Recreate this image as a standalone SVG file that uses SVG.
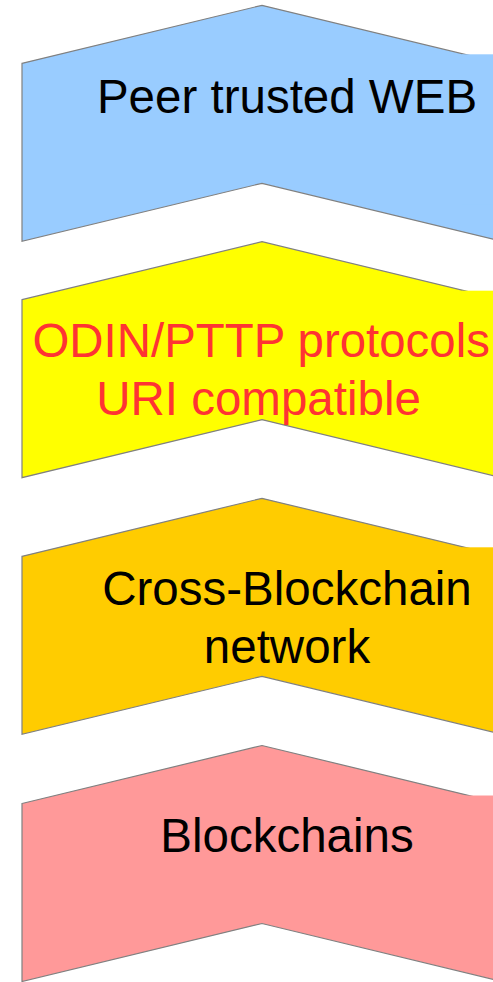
<svg xmlns="http://www.w3.org/2000/svg" width="493" height="982" viewBox="0 0 493 982">
<style>
.chev{stroke:#808080;stroke-width:1.2;stroke-linejoin:miter}
.cover{stroke:none}
.t{font-family:"Liberation Sans",Arial,sans-serif;font-size:47.5px;text-anchor:middle}
.blk{fill:#000}
.red{fill:#ff3333}
</style>
<defs>
<path id="shape" d="M22,58 L262,0 L502,58 L502,236 L262,178 L22,236 Z"/>
</defs>
<g id="node-web" transform="translate(0,5.3)">
<use href="#shape" class="chev" fill="#99ccff"/>
<rect class="cover" x="462" y="49" width="40" height="150" fill="#99ccff"/>
<text class="t blk" x="287" y="108">Peer trusted WEB</text>
</g>
<g id="node-odin" transform="translate(0,241.7)">
<use href="#shape" class="chev" fill="#ffff00"/>
<rect class="cover" x="462" y="49" width="40" height="150" fill="#ffff00"/>
<text class="t red" x="32.5" y="115" style="text-anchor:start;font-size:47.4px">ODIN/PTTP protocols</text>
<text class="t red" x="258.5" y="173.3">URI compatible</text>
</g>
<g id="node-cross" transform="translate(0,498.3)">
<use href="#shape" class="chev" fill="#ffcc00"/>
<rect class="cover" x="462" y="49" width="40" height="150" fill="#ffcc00"/>
<text class="t blk" x="287" y="106.7">Cross-Blockchain</text>
<text class="t blk" x="287" y="165">network</text>
</g>
<g id="node-blockchains" transform="translate(0,745.5)">
<use href="#shape" class="chev" fill="#ff9999"/>
<rect class="cover" x="462" y="50" width="40" height="150" fill="#ff9999"/>
<text class="t blk" x="287" y="106.2">Blockchains</text>
</g>
<g id="connectors"/>
</svg>
